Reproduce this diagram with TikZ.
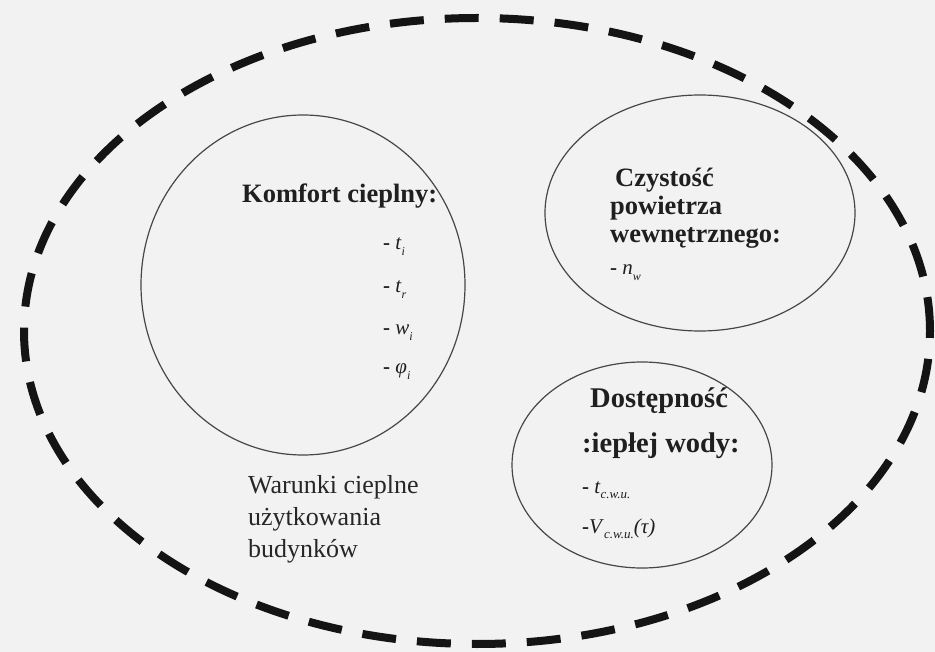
\documentclass[tikz,border=0pt]{standalone}
\usepackage{fontspec}
\setmainfont{Liberation Serif}
\usetikzlibrary{shapes.geometric}
% lowered italic subscript in text mode
\newcommand\lowsub[2][12]{\raisebox{-0.28em}{\fontsize{#1}{#1}\selectfont\itshape #2}}
\begin{document}
\begin{tikzpicture}[x=1pt,y=-1pt,
  zone/.style={draw=black!72, line width=1.2pt, ellipse, inner sep=0pt},
  outer/.style={draw=black!92, line width=8pt, ellipse, inner sep=0pt,
                dash pattern=on 34pt off 21pt},
  head/.style={font=\fontsize{26.5}{28}\selectfont\bfseries, anchor=base west, inner sep=0pt, text=black!88},
  bighead/.style={head, font=\fontsize{28.5}{30}\selectfont\bfseries},
  item/.style={font=\fontsize{21}{24}\selectfont, anchor=base west, inner sep=0pt, text=black!88},
  plain/.style={font=\fontsize{26}{28}\selectfont, anchor=base west, inner sep=0pt, text=black!85}]
\fill[black!5] (0,0) rectangle (935,652);
\useasboundingbox (0,0) rectangle (935,652);

% outer dashed boundary
\node[outer, minimum width=906, minimum height=626] (all) at (477,331) {};

% the three groups
\node[zone, minimum width=324, minimum height=340] (komfort) at (303,285) {};
\node[zone, minimum width=310, minimum height=236] (czystosc) at (700,213) {};
\node[zone, minimum width=260, minimum height=206] (cwu) at (642,465) {};

% thermal comfort
\node[head] (k0) at (242,203) {Komfort cieplny:};
\node[item] (k1) at (383,250) {\textbf{-} \textit{t}\lowsub{i}};
\node[item] (k2) at (383,293) {\textbf{-} \textit{t}\lowsub{r}};
\node[item] (k3) at (383,335) {\textbf{-} \textit{w}\lowsub{i}};
\node[item] (k4) at (383,374) {\textbf{-} \textit{φ}\lowsub{i}};

% indoor air quality
\node[head] (c0) at (615,187) {Czystość};
\node[head] (c1) at (610,215) {powietrza};
\node[head] (c2) at (610,243) {wewnętrznego:};
\node[item] (c3) at (610,275) {\textbf{-} \textit{n}\lowsub{w}};

% hot water availability
\node[bighead] (d0) at (590,407) {Dostępność};
\node[bighead] (d1) at (582,452) {:iepłej wody:};
\node[item] (d2) at (582,493) {\textbf{-} \textit{t}\lowsub[13]{c.w.u.}};
\node[item] (d3) at (582,533) {\textbf{-}\textit{V}\lowsub[13]{c.w.u.}\textit{(τ)}};

% caption inside the boundary
\node[plain] (w0) at (248,493) {Warunki cieplne};
\node[plain] (w1) at (248,525) {użytkowania};
\node[plain] (w2) at (248,557) {budynków};
\end{tikzpicture}
\end{document}
